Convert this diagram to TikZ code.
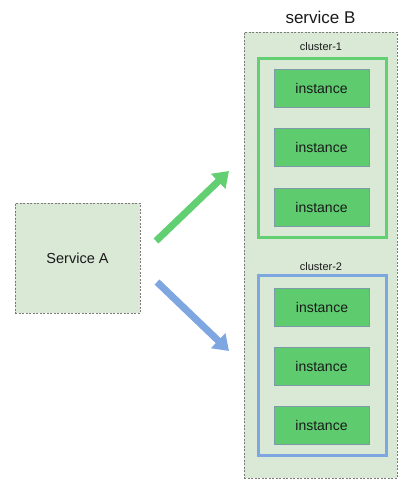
\documentclass[tikz,border=0pt]{standalone}
\usepackage{fontspec}
\setmainfont{Liberation Sans}
\usetikzlibrary{arrows.meta}
\definecolor{boxfill}{HTML}{DAE8D6}
\definecolor{boxline}{HTML}{7A7A7A}
\definecolor{instfill}{HTML}{5DCB6E}
\definecolor{instline}{HTML}{7C9AA8}
\definecolor{cgreen}{HTML}{62D072}
\definecolor{cblue}{HTML}{7EA6E0}
\definecolor{txt}{HTML}{1A1A1A}
\tikzset{
  svcbox/.style={draw=boxline, fill=boxfill, dashed, dash pattern=on 2pt off 1.5pt, line width=0.7pt},
  inst/.style={draw=instline, fill=instfill, line width=0.8pt, minimum width=95pt, minimum height=38pt, inner sep=0pt, text=txt, font=\fontsize{14}{16}\selectfont},
  clus/.style={line width=3pt, minimum width=128pt, inner sep=0pt},
  clabel/.style={text=txt, font=\fontsize{11}{13}\selectfont},
  flow/.style={line width=7pt, -{Triangle[width=20pt,length=15pt]}}
}
\begin{document}
\begin{tikzpicture}[x=1pt,y=-1pt]
\useasboundingbox (0,0) rectangle (417,493);
% Service A
\node[svcbox, minimum width=125pt, minimum height=110pt, inner sep=0pt, text=txt, font=\fontsize{14.5}{16}\selectfont] (A) at (77.5,258) {Service A};
% Service B
\node[text=txt, font=\fontsize{17}{19}\selectfont] (Btitle) at (320.5,17) {service B};
\node[svcbox, minimum width=153pt, minimum height=446pt, inner sep=0pt] (B) at (320.5,255) {};
% cluster 1
\node[clabel] (c1l) at (321,47) {cluster-1};
\node[clus, draw=cgreen, minimum height=179pt] (c1) at (322.5,147.5) {};
\node[inst] (i1) at (321.5,88.5) {instance};
\node[inst] (i2) at (321.5,147.5) {instance};
\node[inst] (i3) at (321.5,207) {instance};
% cluster 2
\node[clabel] (c2l) at (321,267) {cluster-2};
\node[clus, draw=cblue, minimum height=180pt] (c2) at (322,365.5) {};
\node[inst] (i4) at (322,307) {instance};
\node[inst] (i5) at (321.5,366) {instance};
\node[inst] (i6) at (321.5,425.5) {instance};
% arrows
\coordinate (g0) at (156,241);
\coordinate (g1) at (229,171);
\coordinate (b0) at (157,282);
\coordinate (b1) at (229,351);
\draw[flow, draw=cgreen, fill=cgreen] (g0) -- (g1);
\draw[flow, draw=cblue, fill=cblue] (b0) -- (b1);
\end{tikzpicture}
\end{document}
